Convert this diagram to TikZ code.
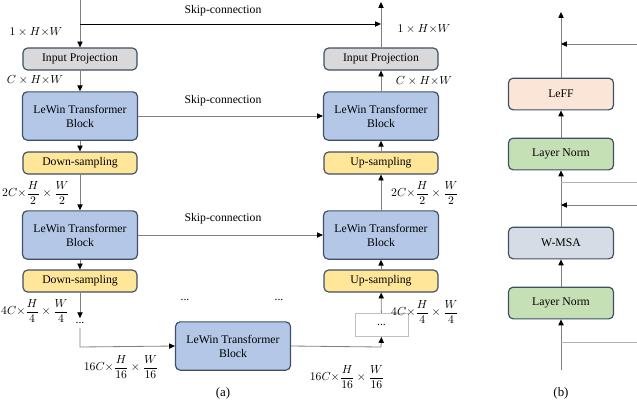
\documentclass[tikz,border=0pt]{standalone}
\usepackage{fontspec}
\setmainfont{Liberation Serif}
\usetikzlibrary{arrows.meta}

\definecolor{edgeblue}{HTML}{3F4F66}
\definecolor{projgray}{HTML}{D9D9D9}
\definecolor{lewinblue}{HTML}{B4C7E7}
\definecolor{sampyellow}{HTML}{FFE699}
\definecolor{leffpeach}{HTML}{FBE5D6}
\definecolor{normgreen}{HTML}{C5E0B4}
\definecolor{msagray}{HTML}{D6DCE5}
\definecolor{wiregray}{HTML}{7F7F7F}

\tikzset{
    blk/.style={draw=edgeblue, line width=1pt, rounded corners=4pt, align=center,
        inner sep=0pt, font=\fontsize{10}{12}\selectfont},
    thinblk/.style={blk, minimum width=3.42cm, minimum height=0.66cm},
    lewin/.style={blk, fill=lewinblue, minimum width=3.45cm, minimum height=1.45cm},
    subblk/.style={blk, minimum width=3.15cm, minimum height=0.95cm},
    wire/.style={draw=wiregray, line width=0.7pt, -{Triangle[length=5pt,width=4.5pt,color=black]}},
    plainwire/.style={draw=wiregray!60, line width=0.7pt},
    dim/.style={font=\fontsize{10}{12}\selectfont},
}

\begin{document}
\begin{tikzpicture}[x=0.03cm, y=-0.03cm]

    % the frame
    \useasboundingbox (0,0) rectangle (637,406);

    % the encoder
    \node[thinblk, fill=projgray] (inproj) at (80,59) {Input Projection};
    \node[lewin] (enc1) at (80,116) {LeWin Transformer\\Block};
    \node[thinblk, fill=sampyellow] (down1) at (80,163) {Down-sampling};
    \node[lewin] (enc2) at (80,235) {LeWin Transformer\\Block};
    \node[thinblk, fill=sampyellow] (down2) at (80,281) {Down-sampling};
    \node[dim] (encdots) at (80,323) {...};

    % the decoder
    \node[thinblk, fill=projgray] (outproj) at (381,59) {Input Projection};
    \node[lewin] (dec1) at (381,116) {LeWin Transformer\\Block};
    \node[thinblk, fill=sampyellow] (up1) at (381,163) {Up-sampling};
    \node[lewin] (dec2) at (381,235) {LeWin Transformer\\Block};
    \node[thinblk, fill=sampyellow] (up2) at (381,281) {Up-sampling};
    \node[draw=black!25, line width=0.5pt, minimum width=1.6cm, minimum height=0.7cm, dim] (decdots) at (381.5,325) {...};

    % the bottleneck
    \node[lewin] (bottle) at (233,346) {LeWin Transformer\\Block};
    \node[dim] (middots1) at (185,300) {...};
    \node[dim] (middots2) at (279,300) {...};

    % input and output
    \coordinate (inlet) at (80,0);
    \coordinate (outlet) at (381,2);
    \coordinate (skiptop) at (80,24);
    \coordinate (skipend) at (381,24);
    \coordinate (encturn) at (80,347);
    \coordinate (decturn) at (381,347);

    \draw[wire] (inlet) -- (inproj);
    \draw[wire] (inproj) -- (enc1);
    \draw[wire] (enc1) -- (down1);
    \draw[wire] (down1) -- (enc2);
    \draw[wire] (enc2) -- (down2);
    \draw[wire] (down2) -- (encdots);
    \draw[wire] (encdots.south) -- (encturn) -- (bottle.west);
    \draw[wire] (bottle.east) -- (decturn) -- (decdots.south);
    \draw[wire] (decdots) -- (up2);
    \draw[wire] (up2) -- (dec2);
    \draw[wire] (dec2) -- (up1);
    \draw[wire] (up1) -- (dec1);
    \draw[wire] (dec1) -- (outproj);
    \draw[wire] (outproj) -- (outlet);

    % skip connections
    \draw[wire, draw=black] (skiptop) -- (skipend);
    \draw[wire] (enc1) -- (dec1);
    \draw[wire] (enc2) -- (dec2);
    \node[dim] (skiplab1) at (223,11) {Skip-connection};
    \node[dim] (skiplab2) at (223,101) {Skip-connection};
    \node[dim] (skiplab3) at (223,219) {Skip-connection};

    % sizes
    \node[dim] (sz1l) at (36,32) {$1\times H{\times}W$};
    \node[dim] (sz2l) at (35,80) {$C\times H{\times}W$};
    \node[dim] (sz3l) at (36,193) {$2C{\times}\displaystyle\frac{H}{2}\times\frac{W}{2}$};
    \node[dim] (sz4l) at (35,311) {$4C{\times}\displaystyle\frac{H}{4}\times\frac{W}{4}$};
    \node[dim] (sz5l) at (121,367) {$16C{\times}\displaystyle\frac{H}{16}\times\frac{W}{16}$};
    \node[dim] (sz1r) at (424,29) {$1\times H{\times}W$};
    \node[dim] (sz2r) at (424,81) {$C\times H{\times}W$};
    \node[dim] (sz3r) at (425,193) {$2C{\times}\displaystyle\frac{H}{2}\times\frac{W}{2}$};
    \node[dim] (sz4r) at (425,312) {$4C{\times}\displaystyle\frac{H}{4}\times\frac{W}{4}$};
    \node[dim] (sz5r) at (347,377) {$16C{\times}\displaystyle\frac{H}{16}\times\frac{W}{16}$};
    \node[font=\fontsize{11}{13}\selectfont] (capa) at (223,393) {(a)};

    % the block
    \node[subblk, fill=normgreen] (norm1) at (561,303) {Layer Norm};
    \node[subblk, fill=msagray] (msa) at (561,243) {W-MSA};
    \node[subblk, fill=normgreen] (norm2) at (561,154) {Layer Norm};
    \node[subblk, fill=leffpeach] (leff) at (561,94) {LeFF};

    \coordinate (bin) at (561,370);
    \coordinate (bout) at (561,12);
    \coordinate (res1in) at (637,205);
    \coordinate (res1at) at (561,205);
    \coordinate (res2in) at (637,44);
    \coordinate (res2at) at (561,44);
    \coordinate (tap1) at (561,342);
    \coordinate (tap1end) at (637,342);
    \coordinate (tap2) at (561,182);
    \coordinate (tap2end) at (637,182);

    \draw[wire] (bin) -- (norm1);
    \draw[wire] (norm1) -- (msa);
    \draw[wire] (msa) -- (norm2);
    \draw[wire] (norm2) -- (leff);
    \draw[wire] (leff) -- (bout);
    \draw[wire] (res1in) -- (res1at);
    \draw[wire] (res2in) -- (res2at);
    \draw[plainwire] (tap1) -- (tap1end);
    \draw[plainwire] (tap2) -- (tap2end);
    \node[font=\fontsize{11}{13}\selectfont] (capb) at (561,393) {(b)};

\end{tikzpicture}
\end{document}
